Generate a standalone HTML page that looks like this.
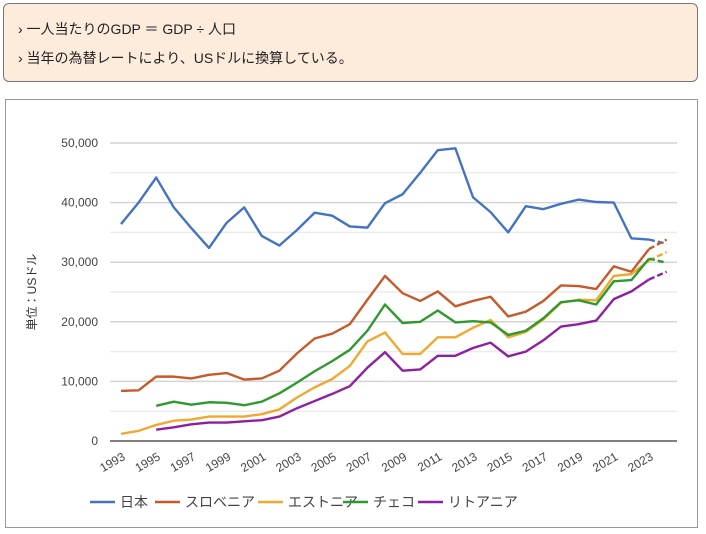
<!DOCTYPE html>
<html><head><meta charset="utf-8"><style>
body{margin:0;width:706px;height:534px;background:#fff;font-family:"Liberation Sans","Noto Sans CJK JP",sans-serif;overflow:hidden;position:relative}
.note{position:absolute;left:3px;top:3px;width:695px;height:79px;background:#fdebdc;border:1.5px solid #777;border-radius:6px;box-sizing:border-box}
.note div{position:absolute;left:14px;font-size:14px;color:#222}
.chartbox{position:absolute;left:5px;top:99px;width:693px;height:429px;border:1.5px solid #999;box-sizing:border-box}
svg{position:absolute;left:0;top:0}
</style></head><body>
<div class="note">
<div style="top:15px">› 一人当たりのGDP ＝ GDP ÷ 人口</div>
<div style="top:44px">› 当年の為替レートにより、USドルに換算している。</div>
</div>
<div class="chartbox"></div>
<svg id="chart" width="706" height="534"></svg>
<script>
const years=[];for(let y=1993;y<=2024;y++)years.push(y);
const japan=[36.4,40.0,44.2,39.2,35.7,32.4,36.6,39.2,34.4,32.8,35.4,38.3,37.8,36.0,35.8,39.9,41.4,45.0,48.8,49.1,40.9,38.4,35.0,39.4,38.9,39.8,40.5,40.1,40.0,34.0,33.8,33.1];
const slovenia=[8.4,8.5,10.8,10.8,10.5,11.1,11.4,10.3,10.5,11.8,14.7,17.2,18.0,19.6,23.7,27.7,24.8,23.5,25.1,22.6,23.5,24.2,20.9,21.7,23.5,26.1,26.0,25.5,29.3,28.4,32.2,33.8];
const estonia=[1.2,1.7,2.7,3.4,3.6,4.1,4.1,4.1,4.5,5.3,7.3,9.0,10.4,12.6,16.7,18.2,14.6,14.6,17.4,17.4,19.0,20.3,17.4,18.3,20.4,23.2,23.7,23.6,27.7,28.0,30.3,31.7];
const czech=[null,null,5.9,6.6,6.1,6.5,6.4,6.0,6.6,8.0,9.8,11.7,13.4,15.3,18.5,22.9,19.8,20.0,21.9,19.9,20.1,19.9,17.8,18.5,20.6,23.3,23.6,22.9,26.8,27.0,30.6,29.9];
const lithuania=[null,null,1.9,2.3,2.8,3.1,3.1,3.3,3.5,4.1,5.5,6.7,7.9,9.2,12.3,14.9,11.8,12.0,14.3,14.3,15.6,16.5,14.2,15.0,16.9,19.2,19.6,20.2,23.8,25.1,27.1,28.4];
const yTicks=[0,10000,20000,30000,40000,50000];
const xTickYears=[1993,1995,1997,1999,2001,2003,2005,2007,2009,2011,2013,2015,2017,2019,2021,2023];
const seriesNames=["日本","スロベニア","エストニア","チェコ","リトアニア"];
const seriesData=[japan,slovenia,estonia,czech,lithuania];
const colors=["#4472c4","#c55a2a","#f0a830","#2e9a2e","#8e1fa0"];
const ids=["japan","slovenia","estonia","czech","lithuania"];
const NS="http://www.w3.org/2000/svg",svg=document.getElementById("chart");
const X=y=>121+(y-1993)*17.6, Y=v=>441-v*0.00596;
function mk(t,a,p){const e=document.createElementNS(NS,t);for(const k in a)e.setAttribute(k,a[k]);(p||svg).appendChild(e);return e;}
for(let v=5000;v<=50000;v+=5000){const g=mk("line",{x1:110,x2:677,y1:Y(v),y2:Y(v),stroke:v%10000?"#ececec":"#d4d4d4","stroke-width":1.5});

}
const ax=mk("line",{x1:110,x2:677,y1:441,y2:441,stroke:"#333","stroke-width":1.2});


yTicks.forEach(v=>{const t=mk("text",{x:98,y:Y(v)+4,"text-anchor":"end","font-size":12,fill:"#444"});t.textContent=v.toLocaleString("en-US");

});
xTickYears.forEach(yr=>{const t=mk("text",{x:0,y:0,"text-anchor":"end","font-size":12,fill:"#444",transform:`translate(${X(yr)+5},${459}) rotate(-30)`});t.textContent=yr;

});
const yt=mk("text",{x:0,y:0,"text-anchor":"middle","font-size":12,fill:"#333",transform:"translate(36,292) rotate(-90)"});yt.textContent="単位：USドル";


seriesData.forEach((d,si)=>{let pts=[];for(let i=0;i<d.length-1;i++){if(d[i]!==null)pts.push(X(years[i])+","+Y(d[i]*1000));}
const p=mk("polyline",{points:pts.join(" "),fill:"none",stroke:colors[si],"stroke-width":2.4,"stroke-linejoin":"round"});


const n=d.length-1;const dl=mk("line",{x1:X(years[n-1]),y1:Y(d[n-1]*1000),x2:X(years[n]),y2:Y(d[n]*1000),stroke:colors[si],"stroke-width":2.4,"stroke-dasharray":"6,3"});

});
const lx=[90,155,258,343,418];
seriesNames.forEach((nm,i)=>{const g=mk("g",{});


mk("line",{x1:lx[i],x2:lx[i]+25,y1:502,y2:502,stroke:colors[i],"stroke-width":2.5},g);
const t=mk("text",{x:lx[i]+30,y:507,"font-size":14,fill:"#444"},g);t.textContent=nm;});
</script>
</body></html>
